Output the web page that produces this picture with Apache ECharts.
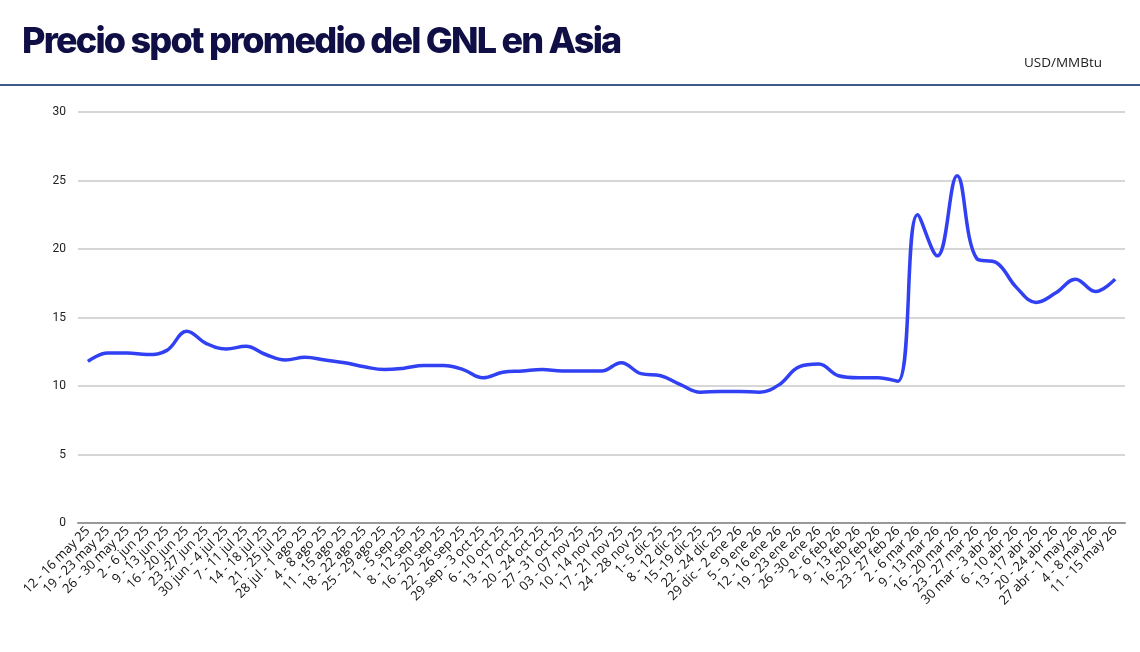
<!DOCTYPE html>
<html>
<head>
<meta charset="utf-8">
<script src="https://cdn.jsdelivr.net/npm/echarts@6/dist/echarts.min.js"></script>
<style>
  html, body { margin: 0; padding: 0; background: #fff; }
  #wrap { position: relative; width: 1140px; height: 652px; overflow: hidden; }
  #title {
    position: absolute; left: 22px; top: 18px;
    font-family: Inter, sans-serif; font-weight: 800; font-size: 36px;
    letter-spacing: -1.8px; color: #0f0f45;
  }
  #unit {
    position: absolute; right: 38px; top: 53px;
    font-family: 'Open Sans', sans-serif; font-size: 13.5px; color: #222;
  }
  #rule { position: absolute; left: 0; top: 84px; width: 1140px; height: 2px; background: #3b5b86; }
  #myLineChart { position: absolute; left: 0; top: 0; width: 1140px; height: 652px; }
</style>
</head>
<body>
<div id="wrap">
  <div id="myLineChart"></div>
  <div id="title">Precio spot promedio del GNL en Asia</div>
  <div id="unit">USD/MMBtu</div>
  <div id="rule"></div>
</div>
<script>
// semanas (eje x)
const semanas = [
  '12 - 16 may 25', '19 - 23 may 25', '26 - 30 may 25', '2 - 6 jun 25', '9 - 13 jun 25',
  '16 - 20 jun 25', '23 -27 jun 25', '30 jun - 4 jul 25', '7 - 11 jul 25', '14 - 18 jul 25',
  '21 - 25 jul 25', '28 jul - 1 ago 25', '4 - 8 ago 25', '11 - 15 ago 25', '18 - 22 ago 25',
  '25 - 29 ago 25', '1 - 5 sep 25', '8 - 12 sep 25', '16 - 20 sep 25', '22 - 26 sep 25',
  '29 sep - 3 oct 25', '6 - 10 oct 25', '13 - 17 oct 25', '20 - 24 oct 25', '27 - 31 oct 25',
  '03 - 07 nov 25', '10 - 14 nov 25', '17 - 21 nov 25', '24 - 28 nov 25', '1- 5 dic 25',
  '8 - 12 dic 25', '15 -19 dic 25', '22 - 24 dic 25', '29 dic - 2 ene 26', '5 - 9 ene 26',
  '12 - 16 ene 26', '19 - 23 ene 26', '26 -30 ene 26', '2 - 6 feb 26', '9 - 13 feb 26',
  '16 -20 feb 26', '23 - 27 feb 26', '2 - 6 mar 26', '9 - 13 mar 26', '16 - 20 mar 26',
  '23 - 27 mar 26', '30 mar - 3 abr 26', '6 - 10 abr 26', '13 - 17 abr 26', '20 - 24 abr 26',
  '27 abr - 1 may 26', '4 - 8 may 26', '11 - 15 may 26',
];
// precio promedio USD/MMBtu
const precios = [
  11.8, 12.4, 12.4, 12.3, 12.6, 14.0, 13.1, 12.7, 12.9, 12.3,
  11.9, 12.1, 11.9, 11.7, 11.4, 11.2, 11.3, 11.5, 11.5, 11.2,
  10.6, 11.0, 11.1, 11.2, 11.1, 11.1, 11.1, 11.7, 10.9, 10.75,
  10.1, 9.55, 9.6, 9.6, 9.55, 10.1, 11.4, 11.6, 10.75, 10.6,
  10.6, 10.35, 22.5, 19.5, 25.35, 19.3, 19.0, 17.2, 16.1, 16.8,
  17.8, 16.9, 17.8,
];
// ticks eje y
const yMin = 0;
const yMax = 30;
const yPaso = 5;

const myChart = echarts.init(document.getElementById('myLineChart'));
myChart.setOption({
  animation: false,
  grid: { left: 78, right: 15, top: 112, bottom: 129 },
  xAxis: {
    type: 'category',
    data: semanas,
    boundaryGap: true,
    axisLine: { lineStyle: { color: '#999', width: 2 } },
    axisTick: { show: false },
    axisLabel: {
      interval: 0,
      rotate: 45,
      margin: 6,
      fontSize: 13,
      fontFamily: 'Open Sans, sans-serif',
      color: '#111',
    },
  },
  yAxis: {
    type: 'value',
    min: yMin,
    max: yMax,
    interval: yPaso,
    axisLine: { show: false },
    axisTick: { show: false },
    axisLabel: { fontSize: 12, fontFamily: 'Roboto, sans-serif', color: '#222', margin: 12 },
    splitLine: { lineStyle: { color: '#c8c8c8', width: 1.5 } },
  },
  series: [
    {
      name: 'GNL Asia',
      type: 'line',
      data: precios,
      smooth: 0.4,
      symbol: 'none',
      lineStyle: { color: '#3040f2', width: 3.5 },
    },
  ],
});
</script>
</body>
</html>
